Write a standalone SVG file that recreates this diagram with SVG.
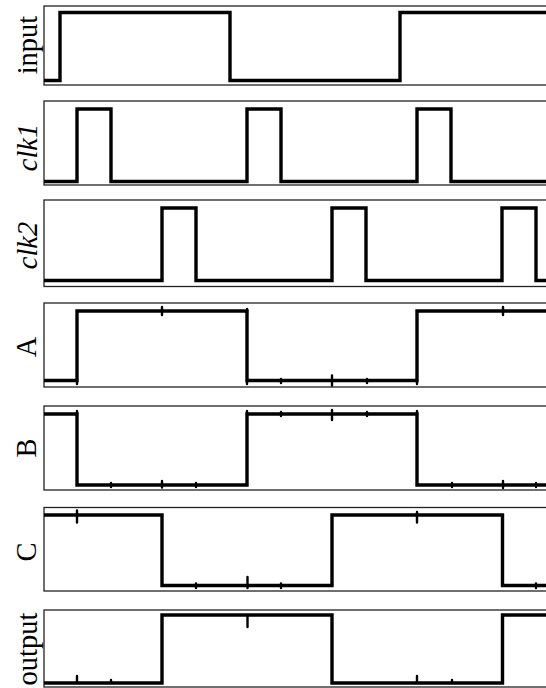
<svg xmlns="http://www.w3.org/2000/svg" width="546" height="688" viewBox="0 0 546 688">
<style>
.frame{fill:#fff;stroke:#222;stroke-width:1.3}
.sig{fill:none;stroke:#000;stroke-width:3.4;stroke-linejoin:miter;stroke-linecap:butt}
.tk{stroke:#000;stroke-width:2.4;stroke-linecap:round}
.lbl{font-family:"Liberation Serif","Times New Roman",serif;font-size:28.5px;fill:#000;text-anchor:middle}
.it{font-style:italic}
</style>
<rect width="546" height="688" fill="#fff"/>
<g id="input">
<rect class="frame" x="44" y="6" width="520" height="79"/>
<text class="lbl" transform="translate(36.5,45) rotate(-90)">input</text>
<path class="sig" d="M44,80.5 H60 V12.5 H230 V80.5 H400 V12.5 H546"/>
</g>
<g id="clk1">
<rect class="frame" x="44" y="101" width="520" height="84"/>
<text class="lbl it" transform="translate(36.5,147.5) rotate(-90)">clk1</text>
<path class="sig" d="M44,181.5 H77 V109 H111 V181.5 H247 V109 H281 V181.5 H417 V109 H451 V181.5 H546"/>
</g>
<g id="clk2">
<rect class="frame" x="44" y="200" width="520" height="86.5"/>
<text class="lbl it" transform="translate(36.5,245.5) rotate(-90)">clk2</text>
<path class="sig" d="M44,280.5 H162 V208 H196 V280.5 H332 V208 H366 V280.5 H502 V208 H536 V280.5 H546"/>
</g>
<g id="A">
<rect class="frame" x="44" y="303" width="520" height="84"/>
<text class="lbl" transform="translate(36,347) rotate(-90)">A</text>
<path class="sig" d="M44,380.5 H77 V311 H247 V380.5 H417 V311 H546"/>
<path class="tk" d="M162,307 V315 M281,379 V383 M332,375.5 V385.5 M367,379 V383 M503,307 V315 M77,380 V384 M247,309 V313 M247,380 V384 M417,380 V384"/>
</g>
<g id="B">
<rect class="frame" x="44" y="406" width="520" height="84"/>
<text class="lbl" transform="translate(36,448) rotate(-90)">B</text>
<path class="sig" d="M44,414 H77 V485 H247 V414 H417 V485 H546"/>
<path class="tk" d="M77,411 V415 M111,483 V487 M162,481 V487.5 M196,483 V487 M247,411 V415 M281,412 V416 M332,410 V420 M367,412 V416 M417,411 V415 M452,483 V487 M503,481 V488 M536,483 V487"/>
</g>
<g id="C">
<rect class="frame" x="44" y="507.5" width="520" height="83.5"/>
<text class="lbl" transform="translate(36,552) rotate(-90)">C</text>
<path class="sig" d="M44,515 H162 V585.5 H332 V515 H502.5 V585.5 H546"/>
<path class="tk" d="M77,510.5 V522.5 M196,583.5 V588 M247.5,577 V588 M281,583.5 V588 M417,512 V522.5 M536,583.5 V588"/>
</g>
<g id="output">
<rect class="frame" x="44" y="610" width="520" height="77"/>
<text class="lbl" transform="translate(36.5,649) rotate(-90)">output</text>
<path class="sig" d="M44,683 H162 V615 H332 V683 H502.5 V615 H546"/>
<path class="tk" d="M77,676 V683 M111,680 V683 M247.5,615 V627 M417,676 V683 M452,680 V683"/>
</g>
</svg>
